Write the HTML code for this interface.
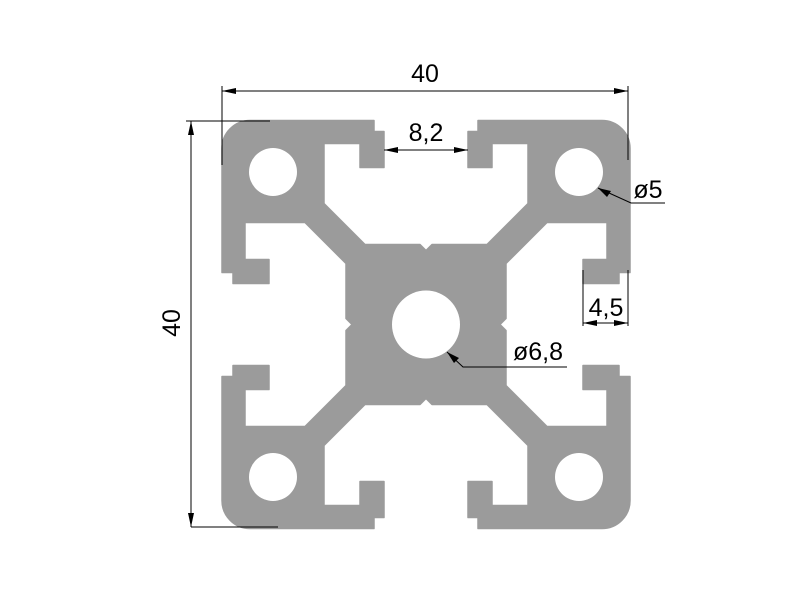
<!DOCTYPE html>
<html><head><meta charset="utf-8"><style>html,body{margin:0;padding:0;background:#fff}svg{display:block}</style></head>
<body>
<svg width="800" height="600" viewBox="0 0 800 600" xmlns="http://www.w3.org/2000/svg">
<defs>
<path id="q" d="M0,0 L-74,0 L-80,-6 L-80,-61 L-121,-102 L-181,-102 L-181,-65 L-157,-65 L-157,-41 L-193,-41 L-193,-52 L-204,-52 L-204,-176 A28,28 0 0 1 -176,-204 L-52,-204 L-52,-193 L-42,-193 L-42,-157 L-66,-157 L-66,-181 L-102,-181 L-102,-121 L-61,-80 L-6,-80 L0,-74 Z"/>
</defs>
<g transform="translate(426,324.5)" fill="#9b9b9b" stroke="#9b9b9b" stroke-width="1.5" stroke-linejoin="round">
<use href="#q"/>
<use href="#q" transform="scale(-1,1)"/>
<use href="#q" transform="scale(1,-1)"/>
<use href="#q" transform="scale(-1,-1)"/>
</g>
<g fill="#fff">
<circle cx="273" cy="172" r="24"/>
<circle cx="579" cy="172" r="24"/>
<circle cx="273" cy="477" r="24"/>
<circle cx="579" cy="477" r="24"/>
<circle cx="426" cy="324.5" r="34"/>
</g>
<g stroke="#000" stroke-width="1" fill="none">
<line x1="222" y1="91" x2="628" y2="91"/>
<line x1="222" y1="86" x2="222" y2="165"/>
<line x1="628" y1="86" x2="628" y2="160"/>
<line x1="384" y1="150" x2="468" y2="150"/>
<line x1="191" y1="121" x2="191" y2="527"/>
<line x1="186" y1="121" x2="270" y2="121"/>
<line x1="191" y1="527" x2="278" y2="527"/>
<polyline points="598,188 631,203 665,203"/>
<line x1="583" y1="270" x2="583" y2="326"/>
<line x1="628" y1="270" x2="628" y2="326"/>
<line x1="583" y1="323" x2="628" y2="323"/>
<polyline points="447,352 463,367 567,367"/>
</g>
<g fill="#000">
<polygon points="222,91 236,88 236,94"/>
<polygon points="628,91 614,88 614,94"/>
<polygon points="384,150 398,147 398,153"/>
<polygon points="468,150 454,147 454,153"/>
<polygon points="191,121 188,135 194,135"/>
<polygon points="191,527 188,513 194,513"/>
<polygon points="598,188 611,191 607,197"/>
<polygon points="583,323 597,320 597,326"/>
<polygon points="628,323 614,320 614,326"/>
<polygon points="447,352 459,358 454,363"/>
</g>
<g font-family="Liberation Sans, sans-serif" font-size="25" fill="#000" text-anchor="middle">
<text x="425" y="82">40</text>
<text x="426" y="141">8,2</text>
<text x="648" y="198">ø5</text>
<text x="606" y="316">4,5</text>
<text x="538" y="360">ø6,8</text>
<text transform="translate(180,323) rotate(-90)">40</text>
</g>
</svg>
</body></html>
